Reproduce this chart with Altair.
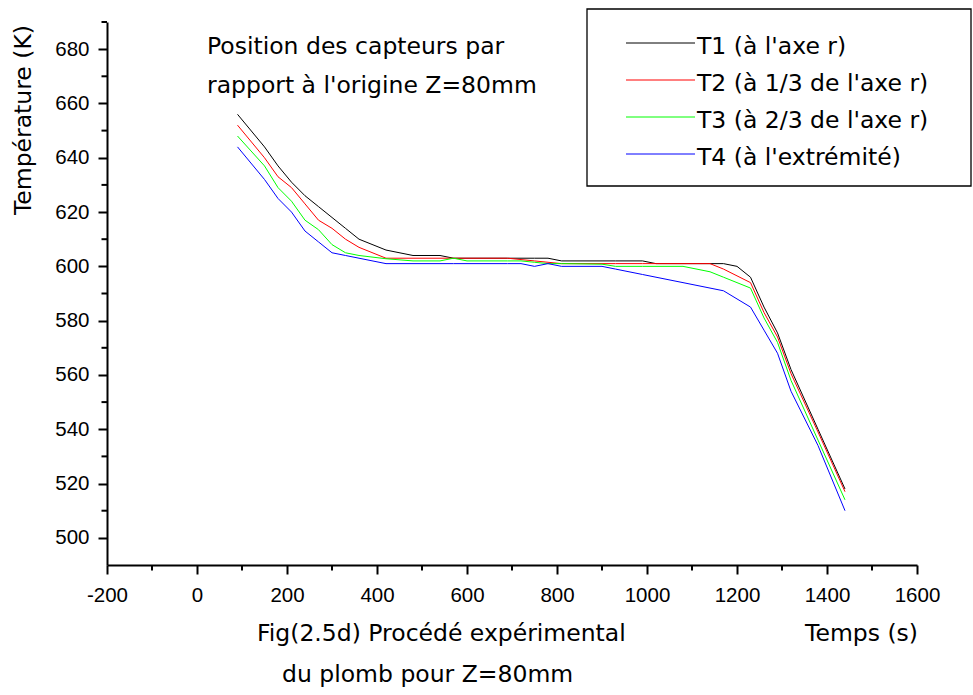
import altair as alt
import pandas as pd

# ---- data ----
time_s = [90, 150, 180, 210, 240, 270, 300, 330, 360, 420, 480, 540, 570, 600, 690, 720,
          750, 780, 810, 900, 930, 990, 1020, 1080, 1140, 1170, 1200, 1230, 1260, 1290,
          1320, 1380, 1440]
T1 = [656, 644, 637, 631, 626, 622, 618, 614, 610, 606, 604, 604, 603, 603, 603, 603,
      603, 603, 602, 602, 602, 602, 601, 601, 601, 601, 600, 596, 585, 575.5,
      562, 540, 518]
T2 = [652, 640, 633, 629, 623, 617, 614, 610, 607, 603, 603, 603, 603, 603, 603, 602.5,
      602, 601.5, 601, 601, 601, 601, 601, 601, 601, 599, 596.5, 594, 583, 574,
      560.5, 539, 517]
T3 = [648, 637, 629, 624, 617, 613.5, 608, 605, 604, 602.8, 602, 602, 603, 602, 602, 602,
      601.5, 601, 601, 600.8, 600, 600, 600, 600, 598, 596, 594, 592, 581, 572,
      558, 536, 514]
T4 = [644, 632, 625, 620, 613, 609, 605, 604, 603, 601, 601, 601, 601, 601, 601, 601,
      600, 601, 600, 600, 599, 597, 596, 594, 592, 591, 588, 585, 576.5, 568,
      554, 534, 510]

series_names = ["T1 (à l'axe r)", "T2 (à 1/3 de l'axe r)",
                "T3 (à 2/3 de l'axe r)", "T4 (à l'extrémité)"]
series_colors = ["#000000", "#ff0000", "#00ff00", "#0000ff"]

x_major = list(range(-200, 1601, 200))
x_minor = list(range(-100, 1600, 200))
y_major = list(range(500, 681, 20))
y_minor = list(range(510, 691, 20))

annotation_lines = ["Position des capteurs par", "rapport à l'origine Z=80mm"]
caption_lines = ["Fig(2.5d) Procédé expérimental", "du plomb pour Z=80mm"]
x_title = "Temps (s)"
y_title = "Température (K)"

# ---- build tables ----
rows = []
for name, vals in zip(series_names, [T1, T2, T3, T4]):
    for t, v in zip(time_s, vals):
        rows.append({"series": name, "t": t, "T": v})
df = pd.DataFrame(rows)

TEXT_FONT = "DejaVu Sans"
TEXT_SIZE = 23.5
LABEL_FONT = "Liberation Sans"
LABEL_SIZE = 20.5

xscale = alt.Scale(domain=[-200, 1600], nice=False, zero=False)
yscale = alt.Scale(domain=[490, 690], nice=False, zero=False)
cscale = alt.Scale(domain=series_names, range=series_colors)

x_axis_major = alt.Axis(values=x_major, title=None, grid=False,
                        labelExpr="'' + datum.value", labelFont=LABEL_FONT,
                        labelFontSize=LABEL_SIZE, labelColor="black", labelPadding=11,
                        labelFlush=False, labelOverlap=False,
                        domainColor="black", domainWidth=2, tickColor="black",
                        tickWidth=2, tickSize=9)
y_axis_major = alt.Axis(values=y_major, title=None, grid=False,
                        labelExpr="'' + datum.value", labelFont=LABEL_FONT,
                        labelFontSize=LABEL_SIZE, labelColor="black", labelPadding=9,
                        labelFlush=False, labelOverlap=False,
                        domainColor="black", domainWidth=2, tickColor="black",
                        tickWidth=2, tickSize=9)

lines = alt.Chart(df).mark_line(strokeWidth=1).encode(
    x=alt.X("t:Q", scale=xscale, axis=x_axis_major),
    y=alt.Y("T:Q", scale=yscale, axis=y_axis_major),
    color=alt.Color("series:N", scale=cscale, legend=None),
)

# minor ticks, placed through the shared scales (same axis definition so it merges)
x_minor_ticks = alt.Chart(pd.DataFrame({"v": x_minor})).mark_rule(
    color="black", strokeWidth=2).encode(
    x=alt.X("v:Q", scale=xscale, axis=x_axis_major),
    y=alt.value(543), y2=alt.value(548.5))
y_minor_ticks = alt.Chart(pd.DataFrame({"v": y_minor})).mark_rule(
    color="black", strokeWidth=2).encode(
    y=alt.Y("v:Q", scale=yscale, axis=y_axis_major),
    x=alt.value(0), x2=alt.value(-5.5))

def text_layer(txt, x, y, align="left", angle=None):
    kw = dict(align=align, baseline="alphabetic", font=TEXT_FONT,
              fontSize=TEXT_SIZE, color="black")
    if angle is not None:
        kw["angle"] = angle
    return alt.Chart(pd.DataFrame({"label": [txt]})).mark_text(**kw).encode(
        x=alt.value(x), y=alt.value(y), text="label:N")

texts = [
    text_layer(annotation_lines[0], 100, 32),
    text_layer(annotation_lines[1], 100, 71),
    text_layer(caption_lines[0], 150, 619),
    text_layer(caption_lines[1], 175, 660),
    text_layer(x_title, 811, 619, align="right"),
    text_layer(y_title, -75.6, 3, align="right", angle=270),
]

# ---- legend (drawn manually) ----
leg = pd.DataFrame({"series": series_names})
leg["i"] = range(len(series_names))
leg["ly"] = 21 + 37 * leg["i"]
leg["ty"] = leg["ly"] + 11

legend_box = alt.Chart(pd.DataFrame({"a": [0]})).mark_rect(
    fillOpacity=0, stroke="black", strokeWidth=1.3).encode(
    x=alt.value(480), x2=alt.value(864), y=alt.value(-13), y2=alt.value(164))

legend_lines = alt.Chart(leg).mark_rule(strokeWidth=1).encode(
    x=alt.value(519), x2=alt.value(588),
    y=alt.Y("ly:Q", scale=None, axis=None),
    color=alt.Color("series:N", scale=cscale, legend=None),
)
legend_text = alt.Chart(leg).mark_text(
    align="left", baseline="alphabetic", font=TEXT_FONT, fontSize=TEXT_SIZE,
    color="black").encode(
    x=alt.value(590),
    y=alt.Y("ty:Q", scale=None, axis=None),
    text="series:N",
)

chart = alt.layer(lines, x_minor_ticks, y_minor_ticks, legend_box, legend_lines,
                  legend_text, *texts).properties(
    width=810, height=543,
    autosize=alt.AutoSizeParams(type="none"),
    padding={"left": 107, "top": 22, "right": 56, "bottom": 130},
    background="white",
).configure_view(stroke=None)

chart.save("out.html", embed_options={"renderer": "svg", "actions": False})
